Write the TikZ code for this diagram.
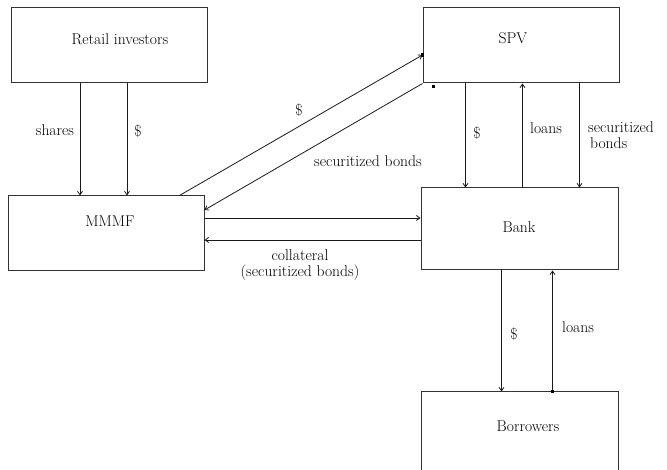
\documentclass[tikz,border=0pt]{standalone}
\usetikzlibrary{arrows.meta}
\begin{document}
\begin{tikzpicture}[x=1pt,y=-1pt,
  box/.style={draw=black!80,line width=1pt,minimum width=196pt,inner sep=0pt},
  txt/.style={font=\rmfamily\fontsize{15.6}{16}\selectfont,inner sep=0pt,text=black},
  arr/.style={draw=black!90,line width=0.8pt,-{Straight Barb[length=3.5pt,width=5pt]}},
  dot/.style={fill=black,minimum size=3.5pt,inner sep=0pt}]
\useasboundingbox (0,0) rectangle (667,470);
\clip (0,0) rectangle (667,470);
% boxes
\node[box,minimum height=75pt] (ret) at (109.5,45.5) {};
\node[box,minimum height=75pt] (mmmf) at (106,233.5) {};
\node[box,minimum height=75pt] (spv) at (521,45.5) {};
\node[box,minimum width=197pt,minimum height=82pt] (bank) at (519.5,229) {};
\node[box,minimum width=197pt,minimum height=90pt] (bor) at (519.5,437) {};
% box texts
\node[txt] (tret) at (120,39) {Retail investors};
\node[txt] (tmmmf) at (110,221) {MMMF};
\node[txt] (tspv) at (513,38) {SPV};
\node[txt] (tbank) at (519,227) {Bank};
\node[txt] (tbor) at (528,426) {Borrowers};
% retail -> mmmf
\draw[arr] ([xshift=69pt]ret.south west) coordinate (a1) -- (a1 |- mmmf.north);
\draw[arr] ([xshift=116pt]ret.south west) coordinate (a2) -- (a2 |- mmmf.north);
% mmmf <-> spv diagonals
\draw[arr] ([xshift=-25pt]mmmf.north east) -- ([yshift=-9.5pt]spv.west) coordinate (d1);
\draw[arr] (spv.south west) -- ([yshift=23.5pt]mmmf.east);
% mmmf <-> bank
\draw[arr] ([yshift=15.5pt]mmmf.east) coordinate (h1) -- (h1 -| bank.west);
\draw[arr] ([yshift=-11pt]bank.west) coordinate (h2) -- (h2 -| mmmf.east);
% spv <-> bank
\draw[arr] ([xshift=43pt]spv.south west) coordinate (v1) -- (v1 |- bank.north);
\draw[arr] ([xshift=102pt]bank.north west) coordinate (v2) -- (v2 |- spv.south);
\draw[arr] ([xshift=157pt]spv.south west) coordinate (v3) -- (v3 |- bank.north);
% bank <-> borrowers
\draw[arr] ([xshift=81pt]bank.south west) coordinate (b1) -- (b1 |- bor.north);
\draw[arr] ([xshift=132pt]bor.north west) coordinate (b2) -- (b2 |- bank.south);
% small squares
\node[dot] (q1) at (d1) {};
\node[dot] (q2) at ([xshift=11pt,yshift=-3pt]spv.south west) {};
\node[dot] (q3) at (b2) {};
% labels
\node[txt] (l1) at (55,130) {shares};
\node[txt] (l2) at (138,131) {\$};
\node[txt] (l3) at (299,110) {\$};
\node[txt] (l4) at (368,161) {securitized bonds};
\node[txt,align=center] (l5) at (300,265) {collateral\\(securitized bonds)};
\node[txt] (l6) at (477,133) {\$};
\node[txt] (l7) at (546,128) {loans};
\node[txt,align=left,anchor=west] (l8) at (588,135) {securitized\\\hspace{2pt}bonds};
\node[txt] (l9) at (514,334) {\$};
\node[txt] (l10) at (578,327) {loans};
\end{tikzpicture}
\end{document}
